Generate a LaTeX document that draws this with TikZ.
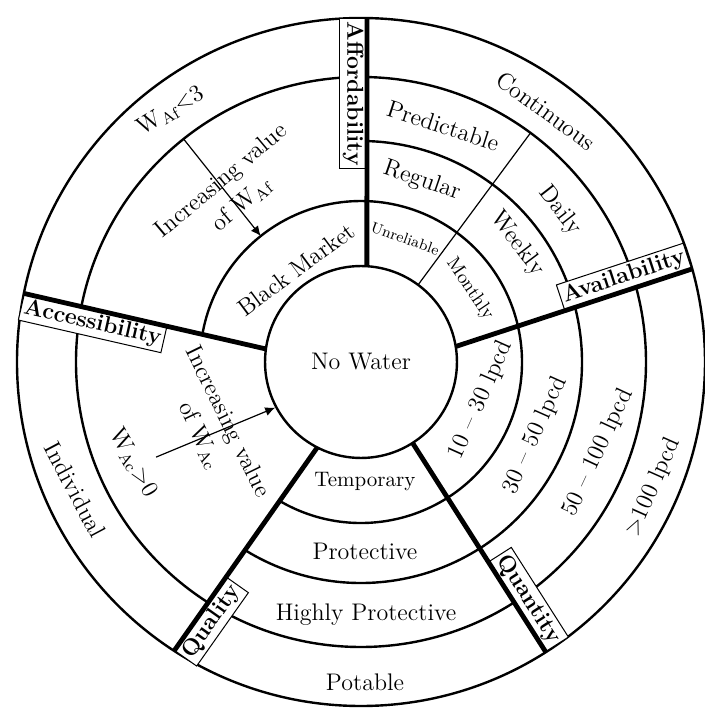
\documentclass[tikz,border=0pt]{standalone}
\usepackage{tikz}
\usetikzlibrary{arrows.meta}

\tikzset{
  ring/.style={line width=1.2pt},
  divider/.style={line width=2.4pt},
  thinline/.style={line width=0.6pt},
  lbl/.style={font=\fontsize{12}{15.5}\selectfont, align=center},
  smalllbl/.style={font=\fontsize{9.5}{11}\selectfont},
  tinylbl/.style={font=\fontsize{7.5}{9}\selectfont},
  catbox/.style={draw, line width=0.5pt, fill=white, inner xsep=1.5pt, inner ysep=1.5pt,
    font=\fontsize{11.5}{13}\selectfont\bfseries},
  incarrow/.style={line width=0.6pt, -{Latex[length=5pt,width=4.5pt]}}
}

\begin{document}
\begin{tikzpicture}[scale=0.017573]
\tikzstyle{every node}+=[inner sep=0pt]
\useasboundingbox (-361,-347) rectangle (343,362);
% rings
\draw [ring] (0,0) circle (344);
\draw [ring] (0,0) circle (285);
\draw [ring] (-121.7:221) arc (-121.7:88.4:221);
\draw [ring] (-120.4:161) arc (-120.4:170.1:161);
\draw [thinline] (53.5:96) -- (53.5:285);
\node [ring, draw, circle, fill=white, minimum size=96pt, lbl] (nowater) at (0,0) {No Water};
% ends of the dividers
\coordinate (affin) at (86.5:96);
\coordinate (affout) at (89:344);
\coordinate (avain) at (9.3:96);
\coordinate (avaout) at (15.7:344);
\coordinate (qtyin) at (-57.5:96);
\coordinate (qtyout) at (-57.5:344);
\coordinate (qlyin) at (-117.1:96);
\coordinate (qlyout) at (-122.9:344);
\coordinate (accin) at (172.2:96);
\coordinate (accout) at (168.5:344);
% category boxes
\node [catbox, rotate=-90, anchor=north west] (afflbl) at (affout) {Affordability};
\node [catbox, rotate=18.2, anchor=south east] (avalbl) at (avaout) {Availability};
\node [catbox, rotate=-57.5, anchor=south east] (qtylbl) at (qtyout) {Quantity};
\node [catbox, rotate=54.8, anchor=north west] (qlylbl) at (qlyout) {Quality};
\node [catbox, rotate=-12.9, anchor=north west] (acclbl) at (accout) {Accessibility};
\draw [divider] (affin) -- (affout);
\draw [divider] (avain) -- (avaout);
\draw [divider] (qtyin) -- (qtyout);
\draw [divider] (qlyin) -- (qlyout);
\draw [divider] (accin) -- (accout);
% availability
\node [lbl, tinylbl, rotate=-19.7] (unreliable) at (70.3:131) {Unreliable};
\node [lbl, smalllbl, rotate=-56] (monthly) at (33.8:131) {Monthly};
\node [lbl, rotate=-19] (regular) at (71.4:191) {Regular};
\node [lbl, rotate=-53] (weekly) at (37.1:196) {Weekly};
\node [lbl, rotate=-18] (predictable) at (70.8:250) {Predictable};
\node [lbl, rotate=-52] (daily) at (37.2:250) {Daily};
\node [lbl, rotate=-36] (continuous) at (53.6:312) {Continuous};
% affordability
\node [lbl, rotate=36.5] (blackmarket) at (125:113) {Black Market};
\node [lbl, rotate=40] (incaf) at (127.4:213) {Increasing value\\of W\textsubscript{Af}};
\node [lbl, rotate=31] (waf) at (127.1:315) {W\textsubscript{Af}<3};
\coordinate (afstart) at (128.5:285);
\coordinate (afend) at (128.5:161);
\draw [incarrow] (afstart) -- (afend);
% accessibility
\node [lbl, rotate=-62] (individual) at (204.1:313) {Individual};
\node [lbl, rotate=-60] (wac) at (203.9:249) {W\textsubscript{Ac}>0};
\node [lbl, rotate=-64] (incac) at (204.4:162) {Increasing value\\of W\textsubscript{Ac}};
\coordinate (acstart) at (204.9:226);
\draw [incarrow] (acstart) -- (nowater.208);
% quantity
\node [lbl, rotate=66] (qa) at (-17.6:126) {10 -- 30 lpcd};
\node [lbl, rotate=66] (qb) at (-22.8:189) {30 -- 50 lpcd};
\node [lbl, rotate=65] (qc) at (-21:254) {50 -- 100 lpcd};
\node [lbl, rotate=66] (qd) at (-23.2:318) {>100 lpcd};
% quality
\node [lbl, font=\fontsize{10.5}{12}\selectfont] (temporary) at (4,-120) {Temporary};
\node [lbl] (protective) at (4,-189) {Protective};
\node [lbl] (highly) at (5,-253) {Highly Protective};
\node [lbl] (potable) at (4,-320) {Potable};
\end{tikzpicture}
\end{document}
